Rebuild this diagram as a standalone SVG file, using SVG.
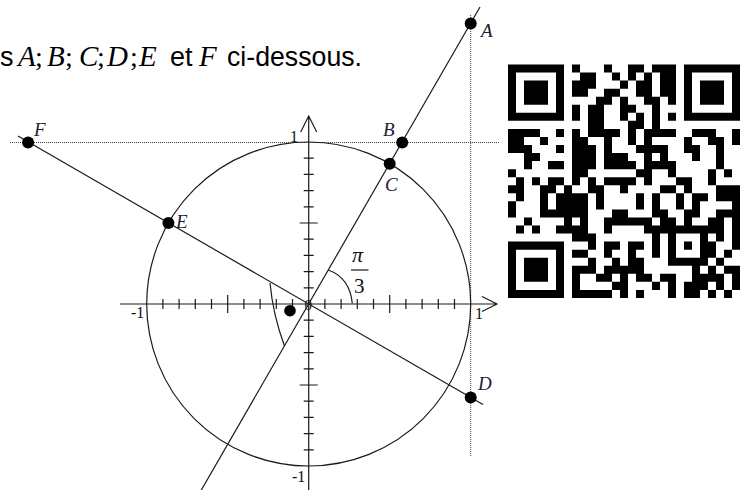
<svg xmlns="http://www.w3.org/2000/svg" width="742" height="490" viewBox="0 0 742 490">
<style>
.ln{fill:none;stroke:#1a1a1a;stroke-width:1.2}
.dot{fill:none;stroke:#444;stroke-width:1;stroke-dasharray:1 1}
.pt{fill:#000}
.lab{font-family:"Liberation Serif",serif;font-style:italic;font-size:19px;fill:#1c1c34}
.num{font-family:"Liberation Serif",serif;font-size:16px;fill:#111}
.hs{font-family:"Liberation Sans",Arial,sans-serif;font-size:27px;fill:#000}
.hm{font-family:"Liberation Serif",serif;font-style:italic;font-size:29px;fill:#000}
.hp{font-family:"Liberation Serif",serif;font-size:28px;fill:#000}
</style>
<rect width="742" height="490" fill="#fff"/>
<g id="header">
<text class="hs" x="0" y="66">s</text>
<text class="hm" x="18" y="66">A</text><text class="hp" x="35" y="66">;</text>
<text class="hm" x="47" y="66">B</text><text class="hp" x="65" y="66">;</text>
<text class="hm" x="79" y="66">C</text><text class="hp" x="97" y="66">;</text>
<text class="hm" x="107" y="66">D</text><text class="hp" x="130" y="66">;</text>
<text class="hm" x="139" y="66">E</text>
<text class="hs" x="170" y="66">et</text>
<text class="hm" x="199" y="66">F</text>
<text class="hs" x="227" y="66" textLength="135" lengthAdjust="spacingAndGlyphs">ci-dessous.</text>
</g>
<g id="guides">
<path class="dot" d="M10 142.5H500M470.7 15V456"/>
</g>
<g id="circle">
<circle class="ln" cx="308.7" cy="304" r="162"/>
</g>
<g id="axes">
<path class="ln" d="M120 304H497M482 296.5L497 304L482 311.5M308.7 490V116M300.7 132L308.7 116L316.7 132"/>
<path class="ln" stroke-width="1.1" d="M324.9 299V309M341.1 299V309M357.3 299V309M373.5 299V309M389.7 295V313M405.9 299V309M422.1 299V309M438.3 299V309M454.5 299V309M292.5 299V309M276.3 299V309M260.1 299V309M243.9 299V309M227.7 295V313M211.5 299V309M195.3 299V309M179.1 299V309M162.9 299V309M303.7 287.8H313.7M303.7 271.6H313.7M303.7 255.4H313.7M303.7 239.2H313.7M299.7 223H317.7M303.7 206.8H313.7M303.7 190.6H313.7M303.7 174.4H313.7M303.7 158.2H313.7M303.7 320.2H313.7M303.7 336.4H313.7M303.7 352.6H313.7M303.7 368.8H313.7M299.7 385H317.7M303.7 401.2H313.7M303.7 417.4H313.7M303.7 433.6H313.7M303.7 449.8H313.7"/>
<text class="num" x="290" y="142">1</text>
<text class="num" x="292" y="482">-1</text>
<text class="num" x="131" y="318">-1</text>
<text class="num" x="475" y="319">1</text>
<text class="num" x="304.5" y="310" style="font-size:15px">0</text>
</g>
<g id="connectors">
<path class="ln" d="M201.3 490L480 7"/>
<path class="ln" d="M18 136L483 404.6"/>
<path class="ln" d="M328.3 270Q350 278 352.3 303.5"/>
<path class="ln" d="M270 283Q273 315 284.5 346"/>
</g>
<g id="angle-label">
<text class="num" x="352" y="262" style="font-style:italic;font-size:22px">π</text>
<path class="ln" d="M351 270H368.5"/>
<text class="num" x="354" y="293" style="font-size:21px">3</text>
</g>
<g id="pointA"><circle class="pt" cx="470.7" cy="23.5" r="6"/><text class="lab" x="481" y="37">A</text></g>
<g id="pointB"><circle class="pt" cx="402.2" cy="142.5" r="6"/><text class="lab" x="383" y="136">B</text></g>
<g id="pointC"><circle class="pt" cx="389.7" cy="163.7" r="6"/><text class="lab" x="385" y="191">C</text></g>
<g id="pointD"><circle class="pt" cx="470.7" cy="397.5" r="6"/><text class="lab" x="478" y="390">D</text></g>
<g id="pointE"><circle class="pt" cx="168.4" cy="223" r="6"/><text class="lab" x="176" y="228">E</text></g>
<g id="pointF"><circle class="pt" cx="28.1" cy="142.5" r="6"/><text class="lab" x="34" y="136">F</text></g>
<g id="angle-marker"><circle class="pt" cx="290" cy="310.7" r="5.8"/></g>
<g id="qr" transform="translate(508 64.5) scale(8 8.05)">
<path fill="#000" d="M0 0h7v1h-7zM8 0h1v1h-1zM12 0h1v1h-1zM15 0h2v1h-2zM18 0h3v1h-3zM22 0h7v1h-7z
M0 1h1v1h-1zM6 1h1v1h-1zM9 1h2v1h-2zM13 1h1v1h-1zM15 1h1v1h-1zM17 1h1v1h-1zM19 1h2v1h-2zM22 1h1v1h-1zM28 1h1v1h-1z
M0 2h1v1h-1zM2 2h3v1h-3zM6 2h1v1h-1zM8 2h3v1h-3zM14 2h1v1h-1zM16 2h2v1h-2zM19 2h2v1h-2zM22 2h1v1h-1zM24 2h3v1h-3zM28 2h1v1h-1z
M0 3h1v1h-1zM2 3h3v1h-3zM6 3h1v1h-1zM8 3h2v1h-2zM12 3h2v1h-2zM16 3h2v1h-2zM19 3h2v1h-2zM22 3h1v1h-1zM24 3h3v1h-3zM28 3h1v1h-1z
M0 4h1v1h-1zM2 4h3v1h-3zM6 4h1v1h-1zM11 4h2v1h-2zM14 4h1v1h-1zM17 4h2v1h-2zM20 4h1v1h-1zM22 4h1v1h-1zM24 4h3v1h-3zM28 4h1v1h-1z
M0 5h1v1h-1zM6 5h1v1h-1zM8 5h1v1h-1zM10 5h2v1h-2zM14 5h2v1h-2zM18 5h1v1h-1zM22 5h1v1h-1zM28 5h1v1h-1z
M0 6h7v1h-7zM8 6h1v1h-1zM10 6h2v1h-2zM14 6h1v1h-1zM16 6h1v1h-1zM18 6h1v1h-1zM20 6h1v1h-1zM22 6h7v1h-7z
M10 7h2v1h-2zM15 7h2v1h-2zM18 7h1v1h-1z
M0 8h4v1h-4zM6 8h1v1h-1zM8 8h1v1h-1zM10 8h4v1h-4zM15 8h1v1h-1zM17 8h4v1h-4zM23 8h2v1h-2zM25 8h1v1h-1zM28 8h1v1h-1z
M0 9h2v1h-2zM4 9h1v1h-1zM8 9h2v1h-2zM12 9h1v1h-1zM15 9h1v1h-1zM17 9h1v1h-1zM22 9h1v1h-1zM25 9h2v1h-2zM28 9h1v1h-1z
M0 10h3v1h-3zM6 10h1v1h-1zM8 10h3v1h-3zM12 10h1v1h-1zM16 10h4v1h-4zM22 10h2v1h-2zM26 10h1v1h-1z
M2 11h2v1h-2zM8 11h3v1h-3zM12 11h3v1h-3zM17 11h1v1h-1zM19 11h1v1h-1zM23 11h1v1h-1zM26 11h1v1h-1z
M2 12h1v1h-1zM5 12h2v1h-2zM8 12h3v1h-3zM12 12h4v1h-4zM17 12h4v1h-4zM26 12h1v1h-1z
M0 13h1v1h-1zM8 13h2v1h-2zM16 13h2v1h-2zM20 13h1v1h-1zM25 13h1v1h-1zM27 13h1v1h-1z
M1 14h1v1h-1zM3 14h1v1h-1zM5 14h2v1h-2zM8 14h1v1h-1zM10 14h1v1h-1zM12 14h4v1h-4zM17 14h1v1h-1zM21 14h2v1h-2zM25 14h1v1h-1z
M0 15h2v1h-2zM4 15h2v1h-2zM7 15h1v1h-1zM10 15h2v1h-2zM14 15h1v1h-1zM19 15h2v1h-2zM22 15h1v1h-1zM26 15h3v1h-3z
M1 16h1v1h-1zM4 16h1v1h-1zM6 16h4v1h-4zM11 16h1v1h-1zM16 16h1v1h-1zM18 16h1v1h-1zM21 16h1v1h-1zM23 16h2v1h-2zM26 16h3v1h-3z
M0 17h1v1h-1zM4 17h1v1h-1zM6 17h4v1h-4zM11 17h1v1h-1zM16 17h1v1h-1zM18 17h1v1h-1zM21 17h1v1h-1zM23 17h1v1h-1zM28 17h1v1h-1z
M0 18h1v1h-1zM4 18h6v1h-6zM13 18h2v1h-2zM18 18h2v1h-2zM22 18h2v1h-2zM26 18h3v1h-3z
M2 19h1v1h-1zM7 19h1v1h-1zM9 19h1v1h-1zM12 19h6v1h-6zM19 19h2v1h-2zM22 19h1v1h-1zM25 19h2v1h-2zM28 19h1v1h-1z
M1 20h1v1h-1zM3 20h1v1h-1zM6 20h4v1h-4zM12 20h1v1h-1zM17 20h10v1h-10zM28 20h1v1h-1z
M8 21h3v1h-3zM18 21h1v1h-1zM20 21h1v1h-1zM24 21h1v1h-1zM26 21h1v1h-1zM28 21h1v1h-1z
M0 22h7v1h-7zM10 22h1v1h-1zM12 22h2v1h-2zM15 22h2v1h-2zM18 22h1v1h-1zM20 22h1v1h-1zM22 22h1v1h-1zM24 22h2v1h-2zM28 22h1v1h-1z
M0 23h1v1h-1zM6 23h1v1h-1zM8 23h2v1h-2zM12 23h1v1h-1zM15 23h1v1h-1zM18 23h1v1h-1zM20 23h1v1h-1zM24 23h2v1h-2zM27 23h1v1h-1z
M0 24h1v1h-1zM2 24h3v1h-3zM6 24h1v1h-1zM10 24h1v1h-1zM13 24h1v1h-1zM15 24h2v1h-2zM20 24h5v1h-5zM26 24h1v1h-1z
M0 25h1v1h-1zM2 25h3v1h-3zM6 25h1v1h-1zM8 25h3v1h-3zM12 25h5v1h-5zM23 25h1v1h-1zM25 25h1v1h-1zM27 25h2v1h-2z
M0 26h1v1h-1zM2 26h3v1h-3zM6 26h1v1h-1zM8 26h1v1h-1zM11 26h2v1h-2zM14 26h1v1h-1zM16 26h2v1h-2zM19 26h2v1h-2zM23 26h4v1h-4zM28 26h1v1h-1z
M0 27h1v1h-1zM6 27h1v1h-1zM8 27h1v1h-1zM13 27h2v1h-2zM18 27h1v1h-1zM20 27h1v1h-1zM22 27h3v1h-3zM26 27h1v1h-1zM28 27h1v1h-1z
M0 28h7v1h-7zM8 28h5v1h-5zM14 28h1v1h-1zM16 28h1v1h-1zM20 28h1v1h-1zM22 28h2v1h-2zM25 28h1v1h-1zM27 28h1v1h-1z"/>
</g>
</svg>
